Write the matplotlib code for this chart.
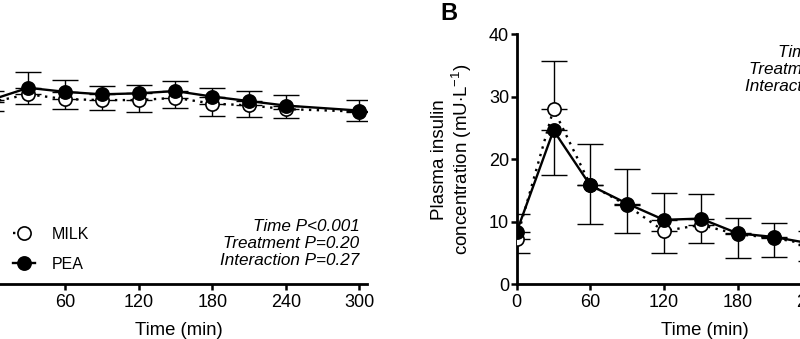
import numpy as np
import matplotlib
matplotlib.use("Agg")
import matplotlib.pyplot as plt

plt.rcParams['font.family'] = ['Liberation Sans', 'DejaVu Sans']
plt.rcParams['mathtext.fontset'] = 'custom'
plt.rcParams['mathtext.rm'] = 'Liberation Sans'
plt.rcParams['mathtext.it'] = 'Liberation Sans:italic'

time = [0, 30, 60, 90, 120, 150, 180, 210, 240, 300]

gluc_pea = [7.37, 7.85, 7.69, 7.59, 7.63, 7.72, 7.50, 7.32, 7.14, 6.94]
gluc_pea_up = [0.35, 0.62, 0.47, 0.34, 0.33, 0.41, 0.36, 0.40, 0.42, 0.42]
gluc_milk = [7.28, 7.59, 7.40, 7.36, 7.36, 7.45, 7.22, 7.15, 7.00, 6.90]
gluc_milk_lo = [0.35, 0.40, 0.41, 0.40, 0.46, 0.42, 0.50, 0.45, 0.35, 0.36]

# panel B (insulin)
ins_pea = [8.4, 24.6, 15.8, 12.9, 10.3, 10.5, 8.15, 7.55, 6.5, 5.0]
ins_pea_up = [2.9, 0.0, 0.0, 5.6, 4.3, 3.9, 2.45, 2.3, 2.0, 1.8]
ins_pea_lo = [0.0, 7.1, 6.1, 0.0, 0.0, 0.0, 0.0, 0.0, 0.0, 0.0]
ins_milk = [7.3, 28.0, 15.9, 12.6, 8.5, 9.5, 8.0, 7.4, 6.3, 4.8]
ins_milk_up = [0.0, 7.7, 6.5, 0.0, 0.0, 0.0, 0.0, 0.0, 0.0, 0.0]
ins_milk_lo = [2.3, 0.0, 0.0, 4.4, 3.5, 2.9, 3.85, 3.1, 2.5, 2.0]

stats_a = "Time P<0.001\nTreatment P=0.20\nInteraction P=0.27"
stats_b = "Time P<0.001\nTreatment P=0.62\nInteraction P=0.41"

zeros = np.zeros(len(time))

fig = plt.figure(figsize=(8, 3.39), dpi=100)
axA = fig.add_axes([-0.01075, 0.1614, 0.4692, 0.7383])
axB = fig.add_axes([0.6459, 0.1614, 0.4692, 0.7383])


def draw(ax, pea, pea_lo, pea_up, milk, milk_lo, milk_up):
    ax.errorbar(time, milk, yerr=[milk_lo, milk_up], fmt='none', ecolor='black',
                elinewidth=1.0, capsize=9.5, capthick=1.0, zorder=2)
    ax.errorbar(time, pea, yerr=[pea_lo, pea_up], fmt='none', ecolor='black',
                elinewidth=1.0, capsize=9.5, capthick=1.0, zorder=2)
    ax.plot(time, milk, linestyle=(0, (1, 2.3)), color='black', lw=1.7,
            marker='o', ms=9.5, mfc='white', mec='black', mew=1.2,
            label='MILK', zorder=3)
    ax.plot(time, pea, linestyle='-', color='black', lw=1.7,
            marker='o', ms=9.5, mfc='black', mec='black', mew=1.2,
            label='PEA', zorder=4)
    ax.set_xlim(0, 306)
    ax.set_xticks([0, 60, 120, 180, 240, 300])
    ax.spines['top'].set_visible(False)
    ax.spines['right'].set_visible(False)
    for s in ['left', 'bottom']:
        ax.spines[s].set_linewidth(2.0)
    ax.tick_params(width=1.8, length=4.5, labelsize=13, pad=2.5)
    ax.set_xlabel('Time (min)', fontsize=13.3, labelpad=8)


draw(axA, gluc_pea, zeros, gluc_pea_up, gluc_milk, gluc_milk_lo, zeros)
axA.set_ylim(0, 10)
axA.text(300, 2.6, stats_a, ha='right', va='top', style='italic',
         fontsize=12.3, linespacing=1.17)
axA.legend(loc='upper left', bbox_to_anchor=(0.0575, 0.23), frameon=False,
           fontsize=11.5, handlelength=1.4, handletextpad=1.05,
           labelspacing=0.95, borderaxespad=0, borderpad=0)

draw(axB, ins_pea, ins_pea_lo, ins_pea_up, ins_milk, ins_milk_lo, ins_milk_up)
axB.set_ylim(0, 40)
axB.set_yticks([0, 10, 20, 30, 40])
axB.tick_params(axis='y', pad=1)
axB.set_ylabel('Plasma insulin\nconcentration (mU$\\cdot$L$^{-1}$)',
               fontsize=13.5, labelpad=11, linespacing=1.1)
axB.text(300, 38.3, stats_b, ha='right', va='top', style='italic',
         fontsize=12.3, linespacing=1.17)

fig.text(0.55, 0.995, 'B', fontsize=17, fontweight='bold', ha='left', va='top')

fig.savefig('out.png', dpi=100)
